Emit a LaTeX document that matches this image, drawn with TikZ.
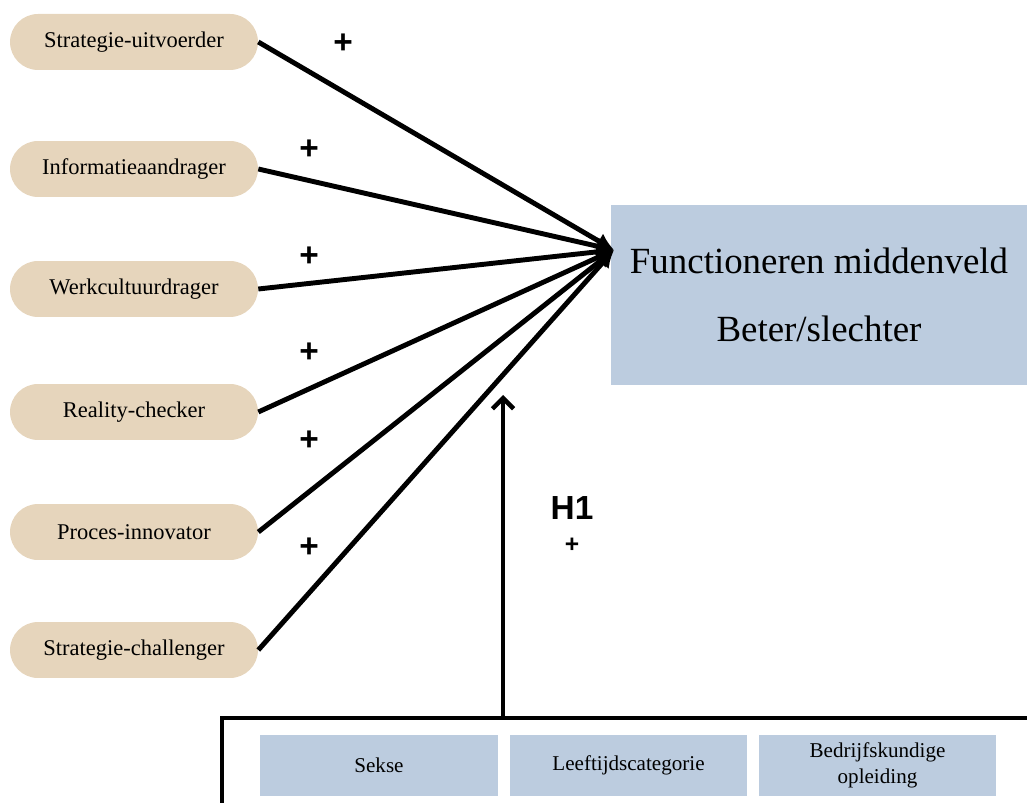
\documentclass[tikz,border=0pt]{standalone}
\usepackage{fontspec}
\setmainfont{Liberation Serif}
\newfontfamily\plusfont{Liberation Sans}
\usetikzlibrary{arrows.meta}
\definecolor{roletan}{HTML}{E6D5BC}
\definecolor{boxblue}{HTML}{BCCCDF}

\begin{document}
\begin{tikzpicture}[x=0.02cm,y=-0.02cm,
    role/.style={fill=roletan,rounded corners=0.56cm,minimum width=4.96cm,minimum height=1.12cm,font=\fontsize{12.8}{14}\selectfont},
    ctrlbox/.style={fill=boxblue,minimum width=4.76cm,minimum height=1.22cm,align=center,font=\fontsize{12}{15}\selectfont},
    rel/.style={line width=2.8pt,-{Latex[length=10pt,width=10pt]}},
    sign/.style={font=\plusfont\bfseries\fontsize{19}{19}\selectfont}]
  \useasboundingbox (0,0) rectangle (1027,803);

  \node[role] (s1) at (134,42) {Strategie-uitvoerder};
  \node[role] (s2) at (134,169) {Informatieaandrager};
  \node[role] (s3) at (134,289) {Werkcultuurdrager};
  \node[role] (s4) at (134,412) {Reality-checker};
  \node[role] (s5) at (134,532) {Proces-innovator};
  \node[role] (s6) at (134,650) {Strategie-challenger};

  \node[fill=boxblue,minimum width=8.32cm,minimum height=3.6cm,align=center,
        font=\fontsize{21}{39}\selectfont] (func) at (819,295)
        {Functioneren middenveld\\Beter/slechter};
  \coordinate (hub) at (614,250);

  \foreach \i in {1,...,6}
    \draw[rel] (s\i.east) -- (hub);

  \node[sign] (p1) at (343,44) {+};
  \node[sign] (p2) at (309,150) {+};
  \node[sign] (p3) at (309,257) {+};
  \node[sign] (p4) at (309,353) {+};
  \node[sign] (p5) at (309,441) {+};
  \node[sign] (p6) at (309,548) {+};

  % control variables
  \draw[line width=2pt] (222,830) -- (222,718) -- (1040,718);
  \node[ctrlbox] (sekse) at (379,765.5) {Sekse};
  \node[ctrlbox] (leeftijd) at (628.5,765.5) {Leeftijdscategorie};
  \node[ctrlbox] (opleiding) at (877.5,765.5) {Bedrijfskundige\\opleiding};

  \coordinate (ctrltop) at (503,718);
  \coordinate (modend) at (503,395);
  \draw[line width=2.6pt,-{Straight Barb[length=6pt,width=12pt]}] (ctrltop) -- (modend);
  \node[sign,font=\plusfont\bfseries\fontsize{19}{19}\selectfont] (h1) at (572,508) {H1};
  \node[sign,font=\plusfont\bfseries\fontsize{14}{14}\selectfont] (h1sign) at (572,545) {+};
\end{tikzpicture}
\end{document}
